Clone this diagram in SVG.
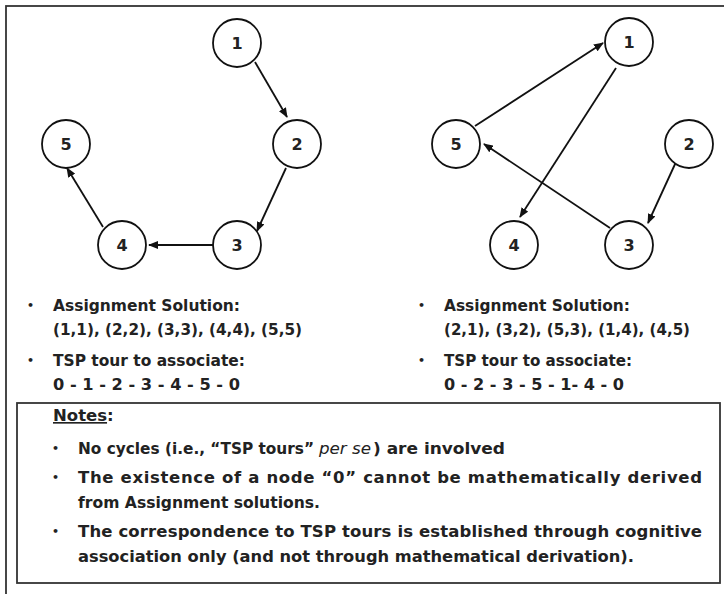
<svg xmlns="http://www.w3.org/2000/svg" width="724" height="594" viewBox="0 0 724 594">
<style>
.node circle{fill:#fff;stroke:#111;stroke-width:1.8}
.node text{font-family:"DejaVu Sans","Liberation Sans",sans-serif;font-weight:bold;font-size:16px;fill:#222;text-anchor:middle}
.edge{stroke:#111;stroke-width:1.8;fill:none;marker-end:url(#arr)}
.t{font-family:"DejaVu Sans","Liberation Sans",sans-serif;font-weight:bold;font-size:16.5px;fill:#222}
.t2{font-family:"DejaVu Sans","Liberation Sans",sans-serif;font-weight:bold;font-size:15.5px;fill:#222}
.i{font-family:"DejaVu Sans","Liberation Sans",sans-serif;font-style:italic;font-size:16.5px;fill:#222}
.b{font-family:"DejaVu Sans","Liberation Sans",sans-serif;font-weight:bold;font-size:11px;fill:#222}
</style>
<defs>
<marker id="arr" markerUnits="userSpaceOnUse" markerWidth="10" markerHeight="8" refX="9" refY="4" orient="auto">
<path d="M0,0 L10,4 L0,8 z" fill="#111"/>
</marker>
</defs>
<rect x="0" y="0" width="724" height="594" fill="#fff"/>
<rect id="frame" x="6" y="6" width="740" height="620" fill="none" stroke="#333" stroke-width="1.8"/>

<g id="connectors">
<line class="edge" x1="255" y1="62" x2="287" y2="117"/>
<line class="edge" x1="286" y1="168" x2="257" y2="231"/>
<line class="edge" x1="213" y1="245" x2="149" y2="245"/>
<line class="edge" x1="103" y1="227" x2="67" y2="168"/>
<line class="edge" x1="475" y1="126" x2="603" y2="43"/>
<line class="edge" x1="616" y1="68" x2="520" y2="217"/>
<line class="edge" x1="610" y1="228" x2="484" y2="144"/>
<line class="edge" x1="676" y1="162" x2="648" y2="223"/>
</g>

<g id="L1" class="node"><circle cx="237" cy="43" r="24"/><text x="237" y="49">1</text></g>
<g id="L2" class="node"><circle cx="297" cy="144" r="24"/><text x="297" y="150">2</text></g>
<g id="L3" class="node"><circle cx="237" cy="245" r="24"/><text x="237" y="251">3</text></g>
<g id="L4" class="node"><circle cx="122" cy="245" r="24"/><text x="122" y="251">4</text></g>
<g id="L5" class="node"><circle cx="66" cy="144" r="24"/><text x="66" y="150">5</text></g>

<g id="R1" class="node"><circle cx="629" cy="42" r="24"/><text x="629" y="48">1</text></g>
<g id="R2" class="node"><circle cx="689" cy="144" r="24"/><text x="689" y="150">2</text></g>
<g id="R3" class="node"><circle cx="629" cy="245" r="24"/><text x="629" y="251">3</text></g>
<g id="R4" class="node"><circle cx="514" cy="245" r="24"/><text x="514" y="251">4</text></g>
<g id="R5" class="node"><circle cx="456" cy="144" r="24"/><text x="456" y="150">5</text></g>

<g id="left-text">
<text class="b" x="27" y="309">•</text>
<text class="t" x="53" y="311" textLength="187" lengthAdjust="spacingAndGlyphs">Assignment Solution:</text>
<text class="t" x="53" y="335" textLength="249" lengthAdjust="spacingAndGlyphs">(1,1), (2,2), (3,3), (4,4), (5,5)</text>
<text class="b" x="27" y="364">•</text>
<text class="t" x="53" y="366" textLength="192" lengthAdjust="spacingAndGlyphs">TSP tour to associate:</text>
<text class="t" x="53" y="390" textLength="187" lengthAdjust="spacingAndGlyphs">0 - 1 - 2 - 3 - 4 - 5 - 0</text>
</g>

<g id="right-text">
<text class="b" x="418" y="309">•</text>
<text class="t" x="444" y="311" textLength="186" lengthAdjust="spacingAndGlyphs">Assignment Solution:</text>
<text class="t" x="444" y="335" textLength="246" lengthAdjust="spacingAndGlyphs">(2,1), (3,2), (5,3), (1,4), (4,5)</text>
<text class="b" x="418" y="364">•</text>
<text class="t" x="444" y="366" textLength="188" lengthAdjust="spacingAndGlyphs">TSP tour to associate:</text>
<text class="t" x="444" y="390" textLength="180" lengthAdjust="spacingAndGlyphs">0 - 2 - 3 - 5 - 1- 4 - 0</text>
</g>

<g id="notes">
<rect x="17" y="403" width="703" height="180" fill="#fff" stroke="#333" stroke-width="1.8"/>
<text class="t" x="53" y="421"><tspan text-decoration="underline">Notes</tspan>:</text>
<text class="b" x="52" y="452">•</text>
<text class="t2" x="78" y="454" textLength="236" lengthAdjust="spacingAndGlyphs">No cycles (i.e., “TSP tours”</text>
<text class="i" x="319" y="454" textLength="52" lengthAdjust="spacingAndGlyphs">per se</text>
<text class="t" x="373" y="454" textLength="132" lengthAdjust="spacingAndGlyphs">) are involved</text>
<text class="b" x="52" y="481">•</text>
<text class="t" x="78" y="483" textLength="624" lengthAdjust="spacing">The existence of a node “0” cannot be mathematically derived</text>
<text class="t" x="78" y="508" textLength="242" lengthAdjust="spacingAndGlyphs">from Assignment solutions.</text>
<text class="b" x="52" y="535">•</text>
<text class="t" x="78" y="537" textLength="624" lengthAdjust="spacing">The correspondence to TSP tours is established through cognitive</text>
<text class="t" x="78" y="562" textLength="556" lengthAdjust="spacingAndGlyphs">association only (and not through mathematical derivation).</text>
</g>
</svg>
